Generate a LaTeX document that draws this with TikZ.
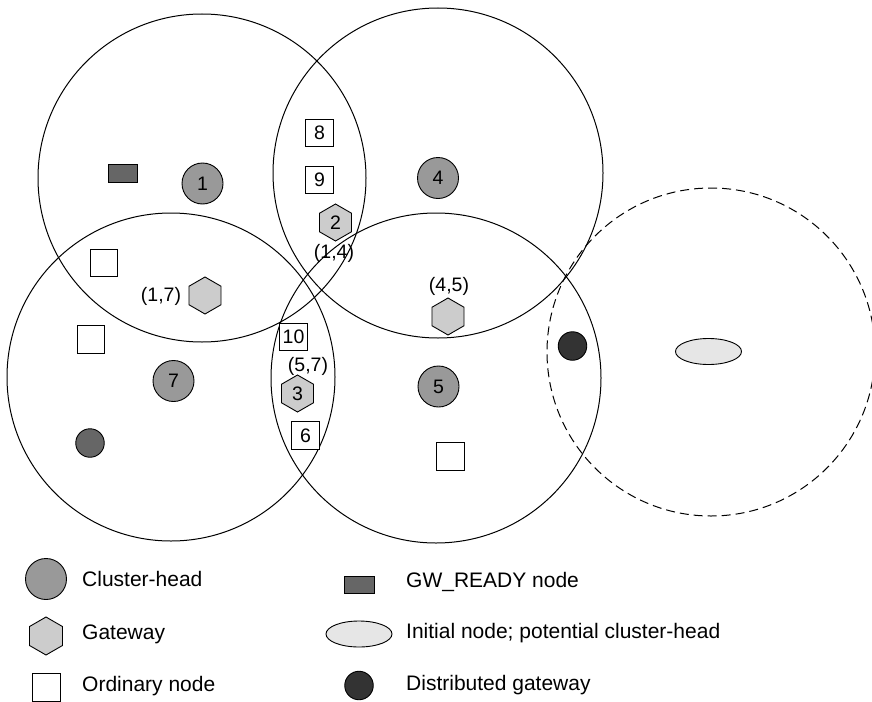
\documentclass[tikz,border=0pt]{standalone}
\usepackage{fontspec}
\setmainfont{Liberation Sans}
\usetikzlibrary{shapes.geometric}
\definecolor{headgray}{HTML}{999999}
\definecolor{gwgray}{HTML}{CCCCCC}
\definecolor{readygray}{HTML}{666666}
\definecolor{distgray}{HTML}{333333}
\definecolor{initgray}{HTML}{E6E6E6}
\begin{document}
\begin{tikzpicture}[x=1pt,y=-1pt,
  rangeline/.style={line width=1pt},
  potrangeline/.style={line width=1pt,dash pattern=on 9pt off 5pt},
  numfont/.style={font=\fontsize{19.5}{20}\selectfont},
  head/.style={circle,draw,fill=headgray,minimum size=41pt,inner sep=0pt,line width=0.9pt,numfont},
  gateway/.style={regular polygon,regular polygon sides=6,shape border rotate=30,draw,fill=gwgray,minimum size=37pt,inner sep=0pt,line width=0.9pt,numfont},
  ordinary/.style={rectangle,draw,fill=white,minimum size=27.5pt,inner sep=0pt,line width=0.9pt,numfont},
  ready/.style={rectangle,draw,fill=readygray,minimum width=29pt,minimum height=18pt,inner sep=0pt,line width=0.9pt},
  initnode/.style={ellipse,draw,fill=initgray,minimum width=66pt,minimum height=26pt,inner sep=0pt,line width=0.9pt},
  distgw/.style={circle,draw,fill=distgray,minimum size=28.5pt,inner sep=0pt,line width=0.9pt},
  pairlabel/.style={inner sep=0pt,numfont},
  legendtext/.style={anchor=west,inner sep=0pt,font=\fontsize{21}{24}\selectfont}
]
\useasboundingbox (0,0) rectangle (872,701);

% cluster ranges
\coordinate (r1) at (202,178);
\coordinate (r4) at (438,173);
\coordinate (r7) at (171,377);
\coordinate (r5) at (436,378);
\coordinate (rp) at (711,352);
\draw[rangeline] (r1) circle[radius=164];
\draw[rangeline] (r4) circle[radius=165];
\draw[rangeline] (r7) circle[radius=164];
\draw[rangeline] (r5) circle[radius=165];
\draw[potrangeline] (rp) circle[radius=164];

% cluster-heads
\node[head] (h1) at (202.5,183.5) {1};
\node[head] (h4) at (438,178) {4};
\node[head] (h7) at (173.5,381) {7};
\node[head] (h5) at (438.5,386.5) {5};

% gateways
\node[gateway] (g2) at (335.5,222.5) {2};
\node[pairlabel] (l14) at (334,253) {(1,4)};
\node[gateway] (g17) at (205,295.5) {};
\node[pairlabel] (l17) at (161,296) {(1,7)};
\node[gateway] (g45) at (448,316.5) {};
\node[pairlabel] (l45) at (449,286) {(4,5)};
\node[gateway] (g3) at (297.5,393.5) {3};
\node[pairlabel] (l57) at (308,366) {(5,7)};

% ordinary nodes
\node[ordinary] (o8) at (319.5,133) {8};
\node[ordinary] (o9) at (319.5,180) {9};
\node[ordinary] (o10) at (293.5,337) {10};
\node[ordinary] (o6) at (305.5,435.5) {6};
\node[ordinary] (oa) at (104,263) {};
\node[ordinary] (ob) at (91,339.5) {};
\node[ordinary] (oc) at (450.5,456.5) {};

% other nodes
\node[ready] (rd) at (122.5,173) {};
\node[distgw] (dg7) at (90,443) [fill=readygray] {};
\node[distgw] (dg) at (572.5,346) {};
\node[initnode] (ini) at (708.5,351.5) {};

% legend
\node[head] (k1) at (46,579) {};
\node[legendtext] (t1) at (82,579) {Cluster-head};
\node[gateway] (k2) at (46,636) [minimum size=38pt] {};
\node[legendtext] (t2) at (82,634) {Gateway};
\node[ordinary] (k3) at (46,687) [minimum size=28pt] {};
\node[legendtext] (t3) at (82,686) {Ordinary node};
\node[ready] (k4) at (359,584.5) [minimum width=30pt,minimum height=17pt] {};
\node[legendtext] (t4) at (406,582) {GW\_READY node};
\node[initnode] (k5) at (359,634) {};
\node[legendtext] (t5) at (406,633) {Initial node; potential cluster-head};
\node[distgw] (k6) at (359,685.5) {};
\node[legendtext] (t6) at (406,685) {Distributed gateway};
\end{tikzpicture}
\end{document}
